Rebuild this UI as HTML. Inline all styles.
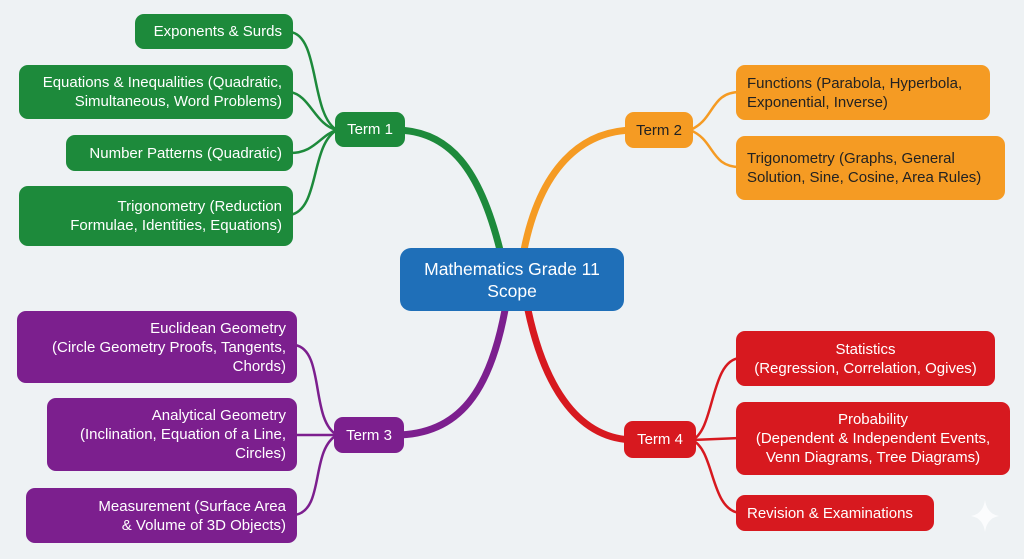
<!DOCTYPE html>
<html><head><meta charset="utf-8"><style>
body{margin:0;width:1024px;height:559px;background:#eef2f4;position:relative;overflow:hidden;font-family:"Liberation Sans",sans-serif;}
.b{position:absolute;box-sizing:border-box;border-radius:9px;color:#fff;font-size:15px;line-height:19px;display:flex;flex-direction:column;justify-content:center;padding:0 11px;}
.g{background:#1d8a3b;text-align:right;}
.o{background:#f59b23;color:#222;text-align:left;}
.p{background:#7c1f8e;text-align:right;}
.r{background:#d7191f;text-align:center;}
.t{text-align:center;padding:0;}
</style></head><body>
<svg width="1024" height="559" style="position:absolute;left:0;top:0" fill="none" stroke-linecap="round">
<g stroke="#1d8a3b">
<path d="M500 250 C480 170 450 130 395 130" stroke-width="7"/>
<path d="M337 130 C310 115 320 35 290 32" stroke-width="2.5"/>
<path d="M337 130 C315 125 310 95 290 92" stroke-width="2.5"/>
<path d="M337 130 C320 135 315 153 290 153" stroke-width="2.5"/>
<path d="M337 130 C310 145 320 210 290 215" stroke-width="2.5"/>
</g>
<g stroke="#f59b23">
<path d="M524 250 C540 170 580 130 635 130" stroke-width="7"/>
<path d="M690 130 C715 120 710 92 740 92" stroke-width="2.5"/>
<path d="M690 130 C715 140 710 167 740 167" stroke-width="2.5"/>
</g>
<g stroke="#7c1f8e">
<path d="M505 310 C490 390 460 435 395 435" stroke-width="7"/>
<path d="M337 435 C310 420 325 350 295 345" stroke-width="2.5"/>
<path d="M337 435 L295 435" stroke-width="2.5"/>
<path d="M337 435 C310 450 325 510 295 515" stroke-width="2.5"/>
</g>
<g stroke="#d7191f">
<path d="M528 310 C545 390 580 440 635 440" stroke-width="7"/>
<path d="M692 440 C715 430 710 360 740 358" stroke-width="2.5"/>
<path d="M692 440 L740 438" stroke-width="2.5"/>
<path d="M692 440 C715 450 710 510 740 513" stroke-width="2.5"/>
</g>
<path d="M985 500 Q987 514 999 516 Q987 518 985 532 Q983 518 971 516 Q983 514 985 500Z" fill="#fbfcfd" stroke="none"/>
</svg>
<div class="b g" style="left:135px;top:14px;width:158px;height:35px">Exponents &amp; Surds</div>
<div class="b g" style="left:19px;top:65px;width:274px;height:54px">Equations &amp; Inequalities (Quadratic,<br>Simultaneous, Word Problems)</div>
<div class="b g" style="left:66px;top:135px;width:227px;height:36px">Number Patterns (Quadratic)</div>
<div class="b g" style="left:19px;top:186px;width:274px;height:60px">Trigonometry (Reduction<br>Formulae, Identities, Equations)</div>
<div class="b g t" style="left:335px;top:112px;width:70px;height:35px">Term 1</div>
<div class="b o t" style="left:625px;top:112px;width:68px;height:36px">Term 2</div>
<div class="b o" style="left:736px;top:65px;width:254px;height:55px">Functions (Parabola, Hyperbola,<br>Exponential, Inverse)</div>
<div class="b o" style="left:736px;top:136px;width:269px;height:64px">Trigonometry (Graphs, General<br>Solution, Sine, Cosine, Area Rules)</div>
<div class="b t" style="left:400px;top:248px;width:224px;height:63px;background:#1f6fb8;font-size:17.5px;line-height:22px;border-radius:11px">Mathematics Grade 11<br>Scope</div>
<div class="b p" style="left:17px;top:311px;width:280px;height:72px">Euclidean Geometry<br>(Circle Geometry Proofs, Tangents,<br>Chords)</div>
<div class="b p" style="left:47px;top:398px;width:250px;height:73px">Analytical Geometry<br>(Inclination, Equation of a Line,<br>Circles)</div>
<div class="b p" style="left:26px;top:488px;width:271px;height:55px">Measurement (Surface Area<br>&amp; Volume of 3D Objects)</div>
<div class="b p t" style="left:334px;top:417px;width:70px;height:36px">Term 3</div>
<div class="b r t" style="left:624px;top:421px;width:72px;height:37px">Term 4</div>
<div class="b r" style="left:736px;top:331px;width:259px;height:55px">Statistics<br>(Regression, Correlation, Ogives)</div>
<div class="b r" style="left:736px;top:402px;width:274px;height:73px">Probability<br>(Dependent &amp; Independent Events,<br>Venn Diagrams, Tree Diagrams)</div>
<div class="b r" style="left:736px;top:495px;width:198px;height:36px;text-align:left">Revision &amp; Examinations</div>
</body></html>
